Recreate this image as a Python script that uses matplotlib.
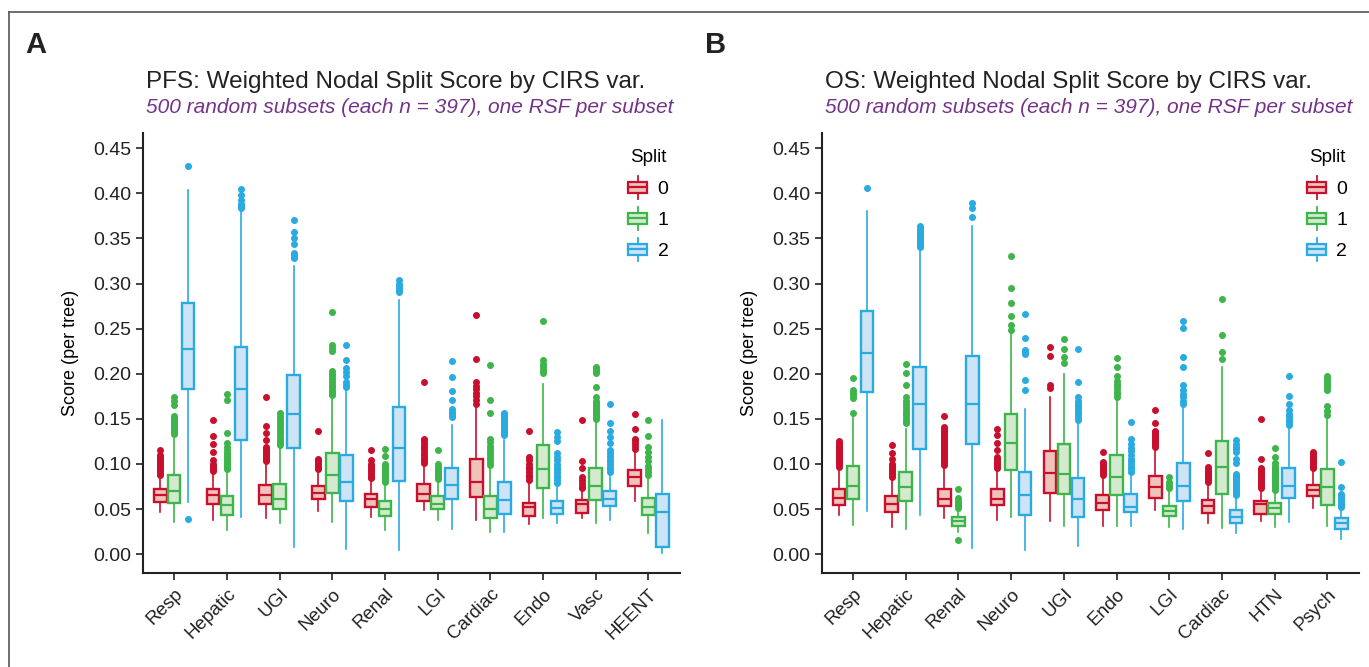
import numpy as np
import matplotlib
matplotlib.use("Agg")
import matplotlib.pyplot as plt
from matplotlib.legend_handler import HandlerBase
from matplotlib.patches import Rectangle
from matplotlib.lines import Line2D

plt.rcParams['font.family'] = ['Liberation Sans', 'DejaVu Sans']

splits = ['0', '1', '2']
edge_cols = ['#C8102E', '#3DB54A', '#29ABE2']
face_cols = ['#EFC2BA', '#D3EACF', '#CDE4F6']

# ---------------- PFS ----------------
pfs_cats = ['Resp', 'Hepatic', 'UGI', 'Neuro', 'Renal', 'LGI', 'Cardiac', 'Endo', 'Vasc', 'HEENT']
pfs_lo = [[0.047, 0.038, 0.040, 0.048, 0.041, 0.049, 0.038, 0.033, 0.040, 0.059],
          [0.036, 0.027, 0.034, 0.036, 0.027, 0.038, 0.025, 0.040, 0.035, 0.023],
          [0.058, 0.041, 0.008, 0.006, 0.004, 0.028, 0.025, 0.034, 0.038, 0.001]]
pfs_q1 = [[0.058, 0.056, 0.055, 0.061, 0.052, 0.059, 0.063, 0.042, 0.046, 0.076],
          [0.057, 0.043, 0.050, 0.068, 0.042, 0.050, 0.040, 0.073, 0.060, 0.043],
          [0.183, 0.126, 0.118, 0.059, 0.081, 0.061, 0.045, 0.045, 0.053, 0.008]]
pfs_med = [[0.065, 0.065, 0.065, 0.068, 0.061, 0.067, 0.080, 0.052, 0.056, 0.085],
           [0.070, 0.054, 0.061, 0.088, 0.050, 0.056, 0.050, 0.094, 0.075, 0.052],
           [0.228, 0.183, 0.155, 0.080, 0.118, 0.077, 0.060, 0.051, 0.061, 0.047]]
pfs_q3 = [[0.072, 0.072, 0.077, 0.075, 0.067, 0.078, 0.106, 0.057, 0.060, 0.093],
          [0.088, 0.064, 0.078, 0.112, 0.059, 0.064, 0.064, 0.121, 0.096, 0.062],
          [0.278, 0.230, 0.199, 0.110, 0.163, 0.096, 0.080, 0.059, 0.070, 0.067]]
pfs_hi = [[0.086, 0.091, 0.102, 0.093, 0.082, 0.100, 0.163, 0.080, 0.071, 0.115],
          [0.132, 0.093, 0.116, 0.174, 0.078, 0.082, 0.097, 0.189, 0.149, 0.086],
          [0.404, 0.382, 0.319, 0.182, 0.282, 0.143, 0.126, 0.078, 0.089, 0.149]]
pfs_out = [
    [[0.088, 0.090, 0.092, 0.094, 0.096, 0.098, 0.100, 0.102, 0.104, 0.106, 0.108, 0.110, 0.115],
     [0.092, 0.094, 0.096, 0.098, 0.100, 0.104, 0.113, 0.122, 0.131, 0.149],
     [0.103, 0.105, 0.107, 0.109, 0.111, 0.113, 0.115, 0.117, 0.119, 0.126, 0.134, 0.142, 0.174],
     [0.094, 0.096, 0.098, 0.100, 0.102, 0.104, 0.106, 0.136],
     [0.084, 0.086, 0.088, 0.090, 0.092, 0.094, 0.096, 0.098, 0.100, 0.104, 0.115],
     [0.101, 0.103, 0.105, 0.107, 0.110, 0.113, 0.116, 0.119, 0.122, 0.125, 0.128, 0.191],
     [0.167, 0.171, 0.175, 0.179, 0.183, 0.186, 0.191, 0.216, 0.265],
     [0.082, 0.085, 0.088, 0.091, 0.094, 0.097, 0.100, 0.104, 0.108, 0.137],
     [0.073, 0.076, 0.079, 0.082, 0.086, 0.096, 0.103, 0.149],
     [0.117, 0.120, 0.123, 0.126, 0.128, 0.139, 0.155]],
    [[0.133, 0.135, 0.137, 0.139, 0.141, 0.143, 0.145, 0.147, 0.149, 0.151, 0.153, 0.165, 0.170, 0.174],
     [0.094, 0.096, 0.098, 0.100, 0.102, 0.104, 0.106, 0.108, 0.110, 0.112, 0.115, 0.119, 0.123, 0.134, 0.171, 0.178],
     [0.121, 0.123, 0.125, 0.127, 0.129, 0.132, 0.135, 0.138, 0.141, 0.144, 0.147, 0.150, 0.153, 0.157],
     [0.176, 0.178, 0.180, 0.182, 0.185, 0.188, 0.191, 0.194, 0.197, 0.200, 0.203, 0.225, 0.229, 0.232, 0.269],
     [0.080, 0.082, 0.084, 0.086, 0.088, 0.090, 0.092, 0.094, 0.096, 0.098, 0.100, 0.109, 0.117],
     [0.083, 0.085, 0.087, 0.089, 0.091, 0.093, 0.095, 0.097, 0.100, 0.115],
     [0.099, 0.102, 0.105, 0.108, 0.111, 0.114, 0.117, 0.120, 0.124, 0.128, 0.157, 0.171, 0.210],
     [0.201, 0.204, 0.207, 0.211, 0.215, 0.259],
     [0.150, 0.152, 0.154, 0.156, 0.158, 0.160, 0.162, 0.164, 0.166, 0.168, 0.170, 0.174, 0.185, 0.201, 0.203, 0.205, 0.207],
     [0.088, 0.091, 0.094, 0.098, 0.103, 0.108, 0.113, 0.119, 0.131, 0.149]],
    [[0.039, 0.430],
     [0.384, 0.385, 0.386, 0.387, 0.388, 0.393, 0.398, 0.405],
     [0.328, 0.330, 0.332, 0.334, 0.344, 0.350, 0.357, 0.370],
     [0.185, 0.188, 0.191, 0.198, 0.202, 0.206, 0.215, 0.232],
     [0.291, 0.293, 0.295, 0.297, 0.300, 0.304],
     [0.152, 0.154, 0.156, 0.158, 0.161, 0.171, 0.181, 0.196, 0.214],
     [0.132, 0.134, 0.136, 0.138, 0.140, 0.142, 0.144, 0.146, 0.148, 0.150, 0.152, 0.154, 0.156],
     [0.079, 0.082, 0.085, 0.088, 0.091, 0.094, 0.097, 0.100, 0.104, 0.108, 0.112, 0.125, 0.130, 0.135],
     [0.091, 0.094, 0.097, 0.100, 0.103, 0.106, 0.109, 0.112, 0.115, 0.123, 0.130, 0.137, 0.145, 0.166],
     []]]

# ---------------- OS ----------------
os_cats = ['Resp', 'Hepatic', 'Renal', 'Neuro', 'UGI', 'Endo', 'LGI', 'Cardiac', 'HTN', 'Psych']
os_lo = [[0.043, 0.030, 0.040, 0.038, 0.037, 0.031, 0.049, 0.034, 0.037, 0.051],
         [0.032, 0.028, 0.025, 0.041, 0.031, 0.031, 0.030, 0.029, 0.030, 0.031],
         [0.048, 0.043, 0.007, 0.004, 0.009, 0.031, 0.028, 0.023, 0.036, 0.017]]
os_q1 = [[0.054, 0.047, 0.053, 0.054, 0.068, 0.049, 0.062, 0.046, 0.045, 0.064],
         [0.061, 0.059, 0.031, 0.093, 0.067, 0.066, 0.042, 0.067, 0.044, 0.054],
         [0.180, 0.116, 0.122, 0.043, 0.041, 0.047, 0.059, 0.035, 0.062, 0.028]]
os_med = [[0.062, 0.055, 0.061, 0.061, 0.090, 0.057, 0.074, 0.053, 0.055, 0.071],
          [0.075, 0.074, 0.037, 0.123, 0.089, 0.086, 0.048, 0.097, 0.051, 0.074],
          [0.223, 0.166, 0.166, 0.066, 0.061, 0.052, 0.076, 0.041, 0.076, 0.034]]
os_q3 = [[0.072, 0.064, 0.072, 0.072, 0.114, 0.065, 0.087, 0.060, 0.059, 0.077],
         [0.098, 0.091, 0.041, 0.155, 0.122, 0.110, 0.053, 0.125, 0.057, 0.094],
         [0.270, 0.207, 0.220, 0.091, 0.084, 0.067, 0.101, 0.049, 0.095, 0.040]]
os_hi = [[0.095, 0.084, 0.097, 0.093, 0.174, 0.086, 0.115, 0.078, 0.071, 0.093],
         [0.152, 0.139, 0.049, 0.246, 0.200, 0.173, 0.071, 0.207, 0.069, 0.152],
         [0.381, 0.336, 0.364, 0.161, 0.147, 0.089, 0.166, 0.064, 0.140, 0.051]]
os_out = [
    [[0.097, 0.099, 0.101, 0.103, 0.105, 0.107, 0.109, 0.111, 0.113, 0.115, 0.117, 0.119, 0.121, 0.123, 0.125],
     [0.086, 0.088, 0.090, 0.092, 0.094, 0.096, 0.098, 0.100, 0.106, 0.112, 0.121],
     [0.099, 0.101, 0.103, 0.105, 0.107, 0.109, 0.111, 0.113, 0.115, 0.117, 0.119, 0.121, 0.123, 0.125,
      0.127, 0.129, 0.131, 0.133, 0.135, 0.137, 0.139, 0.141, 0.153],
     [0.095, 0.097, 0.099, 0.101, 0.103, 0.105, 0.108, 0.115, 0.123, 0.132, 0.139],
     [0.184, 0.188, 0.220, 0.230],
     [0.088, 0.090, 0.092, 0.094, 0.096, 0.098, 0.100, 0.102, 0.113],
     [0.119, 0.121, 0.123, 0.125, 0.127, 0.129, 0.131, 0.133, 0.135, 0.137, 0.145, 0.160],
     [0.080, 0.082, 0.084, 0.086, 0.088, 0.090, 0.092, 0.094, 0.097, 0.112],
     [0.073, 0.075, 0.077, 0.079, 0.081, 0.083, 0.085, 0.087, 0.089, 0.091, 0.093, 0.095, 0.105, 0.150],
     [0.095, 0.097, 0.099, 0.101, 0.103, 0.105, 0.107, 0.109, 0.111, 0.113]],
    [[0.156, 0.173, 0.176, 0.179, 0.182, 0.195],
     [0.145, 0.148, 0.151, 0.154, 0.157, 0.160, 0.163, 0.166, 0.170, 0.174, 0.187, 0.201, 0.211],
     [0.016, 0.051, 0.053, 0.055, 0.057, 0.059, 0.062, 0.072],
     [0.248, 0.254, 0.264, 0.279, 0.295, 0.331],
     [0.212, 0.219, 0.228, 0.238],
     [0.174, 0.177, 0.180, 0.183, 0.186, 0.189, 0.192, 0.197, 0.208, 0.217],
     [0.073, 0.075, 0.077, 0.080, 0.085],
     [0.216, 0.224, 0.243, 0.283],
     [0.071, 0.073, 0.075, 0.077, 0.079, 0.081, 0.083, 0.085, 0.087, 0.089, 0.091, 0.093, 0.095, 0.098, 0.101, 0.108, 0.118],
     [0.154, 0.159, 0.164, 0.182, 0.185, 0.188, 0.191, 0.194, 0.197]],
    [[0.406],
     [0.341, 0.343, 0.345, 0.347, 0.349, 0.351, 0.353, 0.355, 0.357, 0.359, 0.361, 0.364],
     [0.374, 0.384, 0.389],
     [0.182, 0.193, 0.222, 0.224, 0.226, 0.240, 0.266],
     [0.149, 0.152, 0.155, 0.158, 0.161, 0.164, 0.167, 0.170, 0.174, 0.191, 0.227],
     [0.091, 0.094, 0.097, 0.100, 0.103, 0.106, 0.110, 0.114, 0.118, 0.122, 0.128, 0.146],
     [0.166, 0.170, 0.174, 0.178, 0.182, 0.187, 0.208, 0.219, 0.251, 0.259],
     [0.065, 0.067, 0.069, 0.071, 0.073, 0.075, 0.077, 0.079, 0.081, 0.083, 0.085, 0.087, 0.089,
      0.101, 0.105, 0.113, 0.116, 0.119, 0.122, 0.126],
     [0.143, 0.146, 0.149, 0.152, 0.155, 0.160, 0.166, 0.175, 0.197],
     [0.052, 0.054, 0.056, 0.058, 0.060, 0.062, 0.064, 0.067, 0.074, 0.102]]]


class BoxHandler(HandlerBase):
    def __init__(self, edge, face):
        super().__init__()
        self.edge = edge
        self.face = face

    def create_artists(self, legend, orig_handle, xdescent, ydescent, width, height, fontsize, trans):
        x0, y0 = -xdescent, -ydescent
        xc = x0 + width / 2
        bh = height * 0.62
        yb = y0 + (height - bh) / 2
        whisk1 = Line2D([xc, xc], [y0 - height * 0.15, yb], color=self.edge, lw=1.3, transform=trans)
        whisk2 = Line2D([xc, xc], [yb + bh, y0 + height * 1.15], color=self.edge, lw=1.3, transform=trans)
        rect = Rectangle((x0, yb), width, bh, facecolor=self.face, edgecolor=self.edge, lw=1.6, transform=trans)
        med = Line2D([x0, x0 + width], [yb + bh / 2, yb + bh / 2], color=self.edge, lw=1.6, transform=trans)
        return [whisk1, whisk2, rect, med]


def draw_panel(ax, cats, lo, q1, med, q3, hi, out):
    offs = [-0.265, 0.0, 0.265]
    x = np.arange(len(cats))
    for s in range(3):
        stats = []
        for i in range(len(cats)):
            stats.append(dict(whislo=lo[s][i], q1=q1[s][i], med=med[s][i], q3=q3[s][i],
                              whishi=hi[s][i], fliers=out[s][i]))
        c = edge_cols[s]
        ax.bxp(stats, positions=x + offs[s], widths=0.24, patch_artist=True, showcaps=False,
               manage_ticks=False,
               boxprops=dict(facecolor=face_cols[s], edgecolor=c, linewidth=1.7),
               medianprops=dict(color=c, linewidth=1.6),
               whiskerprops=dict(color=c, linewidth=1.2),
               flierprops=dict(marker='o', markerfacecolor=c, markeredgecolor=c, markersize=4,
                               linestyle='none'))
    ax.set_xticks(x)
    ax.set_xticklabels(cats, rotation=45, ha='right', rotation_mode='anchor', fontsize=13.5)
    ax.set_xlim(-0.59, len(cats) - 1 + 0.6)
    ax.set_ylim(-0.021, 0.467)
    ax.set_yticks(np.arange(0, 0.451, 0.05))
    ax.set_yticklabels([f'{v:.2f}' for v in np.arange(0, 0.451, 0.05)], fontsize=14)
    ax.spines['top'].set_visible(False)
    ax.spines['right'].set_visible(False)
    for sp in ['left', 'bottom']:
        ax.spines[sp].set_linewidth(1.5)
        ax.spines[sp].set_color('#222222')
    ax.tick_params(axis='both', length=5, width=1.2, color='#222222', labelcolor='#222222')
    ax.tick_params(axis='x', pad=4)
    ax.set_ylabel('Score (per tree)', fontsize=13, family=['Liberation Sans Narrow', 'Liberation Sans'],
                  labelpad=10)
    handles = [Rectangle((0, 0), 1, 1) for _ in splits]
    leg = ax.legend(handles, splits, title='Split', loc='upper right', bbox_to_anchor=(1.0, 0.99),
                    frameon=False, fontsize=14, title_fontsize=13.5, handlelength=0.95,
                    handleheight=1.0, labelspacing=0.6, handletextpad=0.55, borderaxespad=0.2,
                    handler_map={h: BoxHandler(edge_cols[k], face_cols[k]) for k, h in enumerate(handles)})
    leg._legend_box.align = 'center'
    leg._legend_box.sep = 9


fig = plt.figure(figsize=(13.69, 6.67), dpi=100)
ax1 = fig.add_axes([0.1045, 0.1409, 0.3923, 0.6597])
ax2 = fig.add_axes([0.6004, 0.1409, 0.3923, 0.6597])

draw_panel(ax1, pfs_cats, pfs_lo, pfs_q1, pfs_med, pfs_q3, pfs_hi, pfs_out)
draw_panel(ax2, os_cats, os_lo, os_q1, os_med, os_q3, os_hi, os_out)

purple = '#74338A'
fig.text(0.1066, 0.868, 'PFS: Weighted Nodal Split Score by CIRS var.', fontsize=17.5, color='#222222')
fig.text(0.1066, 0.8306, '500 random subsets (each n = 397), one RSF per subset', fontsize=15,
         style='italic', color=purple)
fig.text(0.6026, 0.868, 'OS: Weighted Nodal Split Score by CIRS var.', fontsize=17.5, color='#222222')
fig.text(0.6026, 0.8306, '500 random subsets (each n = 397), one RSF per subset', fontsize=15,
         style='italic', color=purple)
fig.text(0.0183, 0.9205, 'A', fontsize=21, fontweight='bold', color='#222222')
fig.text(0.515, 0.9205, 'B', fontsize=21, fontweight='bold', color='#222222')

# frame lines at top/left of the figure
fig.add_artist(Line2D([9 / 1369, 1.0], [1 - 12 / 667, 1 - 12 / 667], color='#555555', lw=1.2))
fig.add_artist(Line2D([9 / 1369, 9 / 1369], [0.0, 1 - 12 / 667], color='#555555', lw=1.2))

plt.savefig('out.png', dpi=100)
